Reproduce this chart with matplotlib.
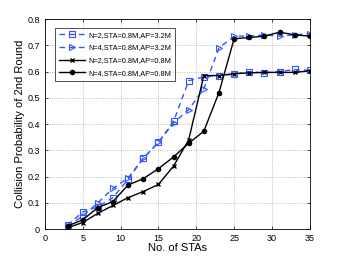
import matplotlib
matplotlib.use('Agg')
import matplotlib.pyplot as plt

stas = [3, 5, 7, 9, 11, 13, 15, 17, 19, 21, 23, 25, 27, 29, 31, 33, 35]

n2_ap32 = [0.015, 0.065, 0.085, 0.12, 0.19, 0.27, 0.33, 0.41, 0.565, 0.58, 0.585,
           0.59, 0.60, 0.595, 0.60, 0.608, 0.605]
n4_ap32 = [0.01, 0.05, 0.10, 0.155, 0.195, 0.27, 0.33, 0.405, 0.455, 0.535, 0.69,
           0.735, 0.735, 0.74, 0.735, 0.74, 0.745]
n2_ap08 = [0.005, 0.025, 0.06, 0.09, 0.12, 0.143, 0.17, 0.24, 0.34, 0.585, 0.585,
           0.592, 0.595, 0.597, 0.597, 0.597, 0.603]
n4_ap08 = [0.012, 0.035, 0.082, 0.105, 0.168, 0.192, 0.23, 0.275, 0.327, 0.373, 0.52,
           0.725, 0.73, 0.735, 0.75, 0.74, 0.735]

labels = ['N=2,STA=0.8M,AP=3.2M', 'N=4,STA=0.8M,AP=3.2M',
          'N=2,STA=0.8M,AP=0.8M', 'N=4,STA=0.8M,AP=0.8M']

plt.rcParams['font.family'] = ['Liberation Sans', 'DejaVu Sans']
blue = '#3355ff'
fig = plt.figure(figsize=(3.42, 2.58), dpi=100)
ax = fig.add_axes([0.131, 0.112, 0.775, 0.814])

ax.plot(stas, n2_ap32, '--s', color=blue, lw=1.0, ms=4, mfc='none', mew=0.8,
        dashes=(4, 3), label=labels[0])
ax.plot(stas, n4_ap32, '-->', color=blue, lw=1.0, ms=4.5, mfc='none', mew=0.8,
        dashes=(4, 3), label=labels[1])
ax.plot(stas, n2_ap08, '-x', color='black', lw=1.0, ms=3.5, mew=1.0, label=labels[2])
ax.plot(stas, n4_ap08, '-o', color='black', lw=1.0, ms=3, label=labels[3])

ax.set_xlim(0, 35)
ax.set_ylim(0, 0.8)
ax.set_xticks(range(0, 36, 5))
ax.set_yticks([i / 10 for i in range(9)])
ax.set_yticklabels(['0'] + ['%.1f' % (i / 10) for i in range(1, 9)])
ax.grid(True, linestyle=':', color='#aaaaaa', lw=0.6)
ax.tick_params(direction='in', labelsize=6.5, length=2, width=0.5, top=True, right=True)
for s in ax.spines.values():
    s.set_linewidth(0.6)
ax.set_xlabel('No. of STAs', fontsize=8, labelpad=0)
ax.set_ylabel('Collision Probability of 2nd Round', fontsize=8, labelpad=2)

leg = ax.legend(loc='upper left', bbox_to_anchor=(0.025, 0.975), fontsize=5.3,
                frameon=True, fancybox=False, edgecolor='black', borderpad=0.5,
                handlelength=3.5, labelspacing=0.75, handletextpad=0.5)
leg.get_frame().set_linewidth(0.6)

fig.savefig('out.png', dpi=100)
